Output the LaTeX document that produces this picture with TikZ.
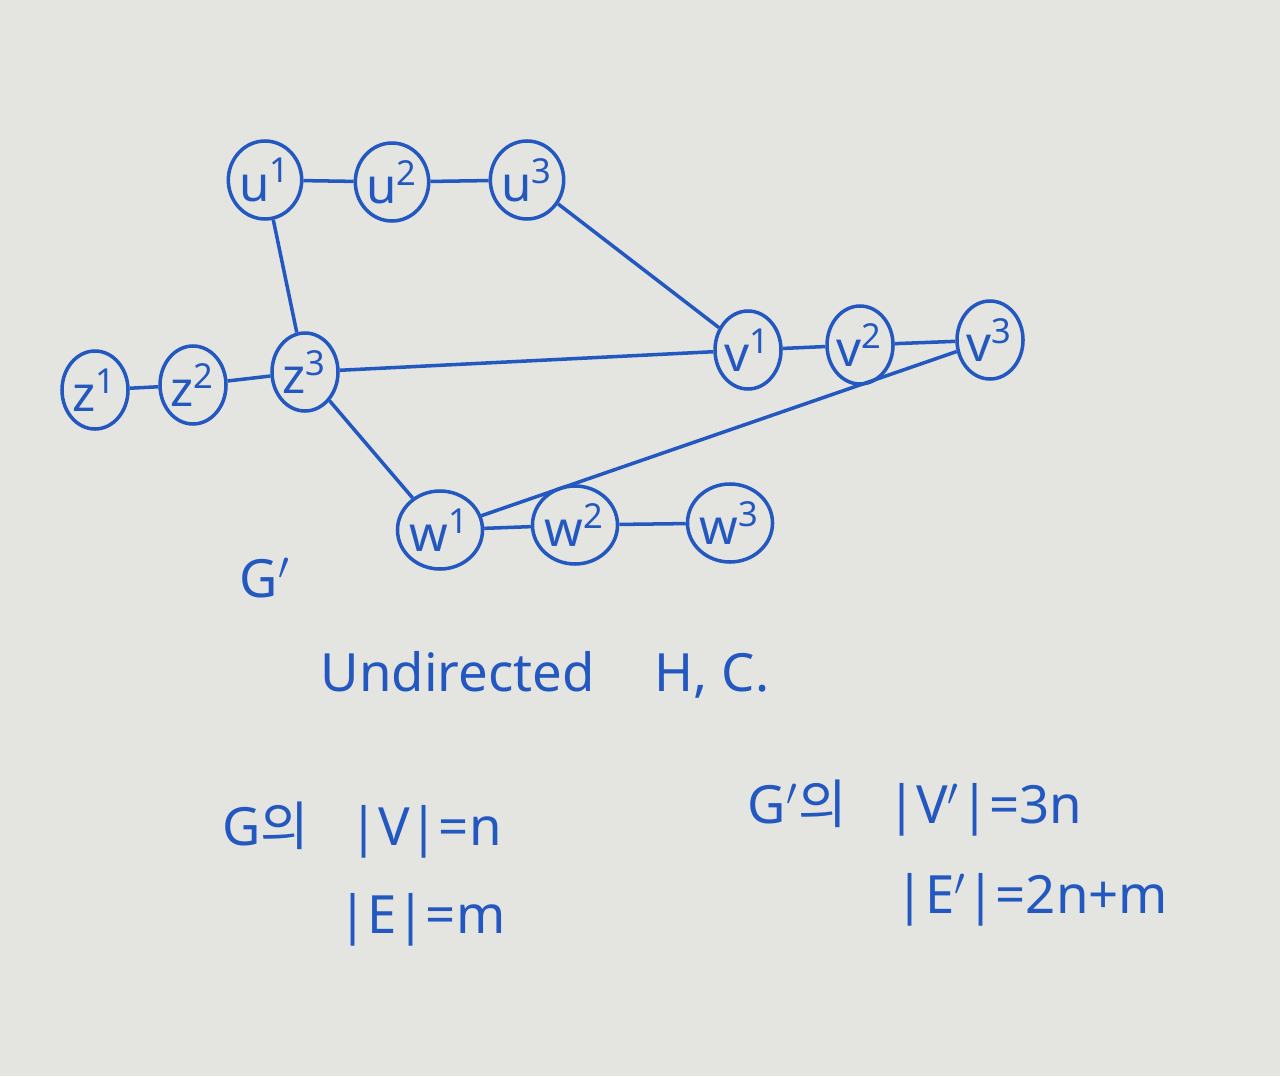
\documentclass[tikz,border=0pt]{standalone}
\usepackage{fontspec}
\setmainfont{Noto Sans}
\newfontfamily\cjk{Noto Sans CJK KR}
\usepackage{tikz}
\usetikzlibrary{shapes.geometric}
\usepackage{xcolor}
\definecolor{paper}{RGB}{228,228,225}
\definecolor{ink}{RGB}{35,88,192}
\newcommand{\vtx}[2]{#1\textsuperscript{#2}}
\tikzset{
  vert/.style={ellipse, draw=ink, line width=1pt, text=ink, minimum width=0.66cm, minimum height=0.78cm, inner sep=0pt, font=\fontsize{14}{16}\selectfont},
  edge/.style={draw=ink, line width=1pt},
  note/.style={text=ink, font=\fontsize{15}{18}\selectfont}
}

\begin{document}
\begin{tikzpicture}
\fill[paper] (0,0) rectangle (12.8,10.76);
\useasboundingbox (0,0) rectangle (12.8,10.76);
% vertices
\node[vert] (u1) at (2.65,8.96) {\vtx{u}{1}};
\node[vert] (u2) at (3.92,8.94) {\vtx{u}{2}};
\node[vert] (u3) at (5.27,8.96) {\vtx{u}{3}};
\node[vert] (z1) at (0.95,6.86) {\vtx{z}{1}};
\node[vert] (z2) at (1.93,6.91) {\vtx{z}{2}};
\node[vert] (z3) at (3.05,7.04) {\vtx{z}{3}};
\node[vert] (v1) at (7.48,7.26) {\vtx{v}{1}};
\node[vert] (v2) at (8.60,7.31) {\vtx{v}{2}};
\node[vert] (v3) at (9.90,7.36) {\vtx{v}{3}};
\node[vert] (w1) at (4.40,5.46) {\vtx{w}{1}};
\node[vert] (w2) at (5.75,5.51) {\vtx{w}{2}};
\node[vert] (w3) at (7.30,5.53) {\vtx{w}{3}};
% edges
\draw[edge] (u1) -- (u2); \draw[edge] (u2) -- (u3);
\draw[edge] (z1) -- (z2); \draw[edge] (z2) -- (z3);
\draw[edge] (v1) -- (v2); \draw[edge] (v2) -- (v3);
\draw[edge] (w1) -- (w2); \draw[edge] (w2) -- (w3);
\draw[edge] (u1) -- (z3);
\draw[edge] (u3) -- (v1);
\draw[edge] (z3) -- (v1);
\draw[edge] (z3) -- (w1);
\draw[edge] (w1) -- (v3);
% labels
\node[note] (gp) at (2.65,4.98) {G$'$};
\node[note] (title) at (5.45,4.01) {Undirected\hspace{0.6cm}H, C.};
\node[note] (gv) at (3.62,2.46) {G{\cjk 의}\hspace{0.4cm}|V|=n};
\node[note] (ge) at (4.22,1.56) {|E|=m};
\node[note] (gpv) at (9.15,2.68) {G$'${\cjk 의}\hspace{0.4cm}|V$'$|=3n};
\node[note] (gpe) at (10.32,1.76) {|E$'$|=2n+m};
\end{tikzpicture}
\end{document}
